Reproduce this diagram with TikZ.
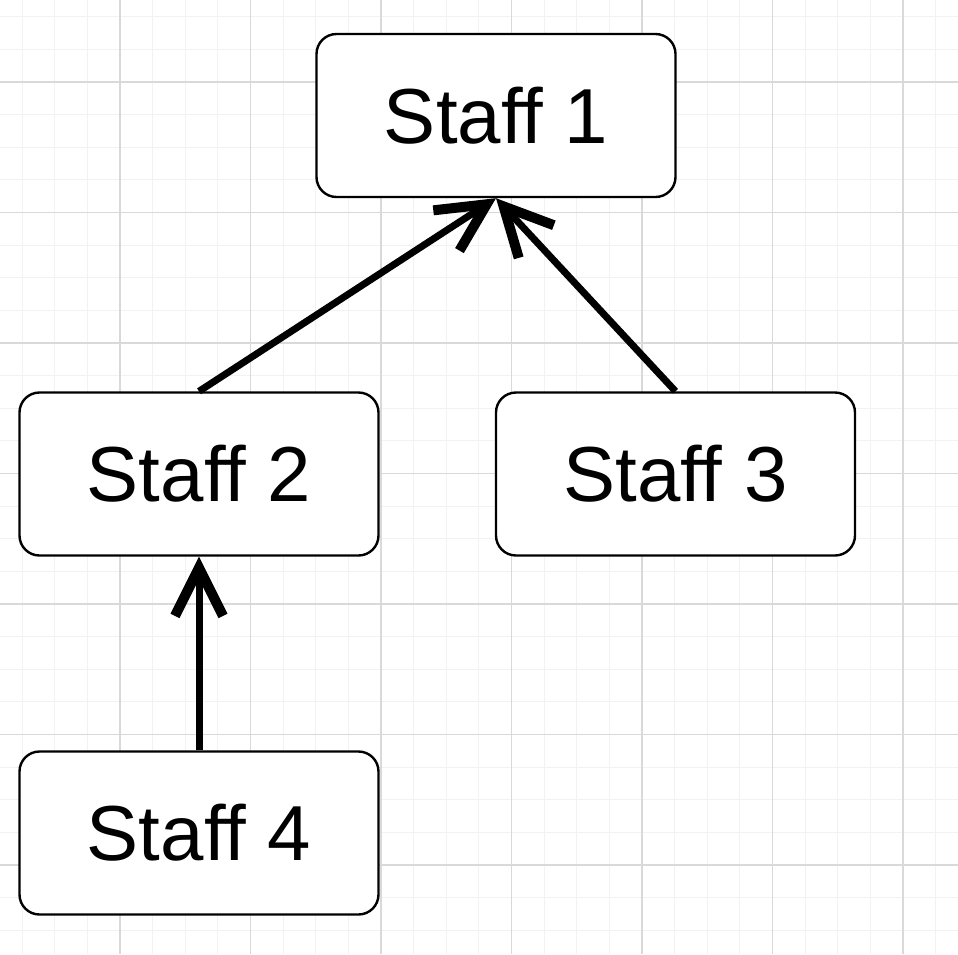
\documentclass[tikz,border=0pt]{standalone}
\usepackage{fontspec}
\setmainfont{Liberation Sans}
\usetikzlibrary{arrows.meta}
\definecolor{gridmajor}{HTML}{D9D9D9}
\definecolor{gridminor}{HTML}{F2F2F2}
\tikzset{
  staffbox/.style={draw=black, line width=2.4pt, rounded corners=20pt, fill=white,
    minimum width=359pt, minimum height=163pt, inner sep=0pt,
    font=\fontsize{78}{90}\selectfont},
  reports/.style={line width=7pt, line cap=butt,
    -{Straight Barb[length=48pt, width=48pt, line width=10pt, line cap=butt, line join=miter]}},
}
\begin{document}
\begin{tikzpicture}[x=1pt, y=-1pt]
  % canvas
  \fill[white] (0,0) rectangle (958,954);
  \useasboundingbox (0,0) rectangle (958,954);
  % minor grid
  \foreach \i in {0,...,29} {
    \draw[gridminor, line width=1pt] ({22.1+32.625*\i},0) -- ({22.1+32.625*\i},954);
    \draw[gridminor, line width=1pt] (0,{16.75+32.625*\i}) -- (958,{16.75+32.625*\i});
  }
  % major grid
  \foreach \i in {0,...,6} {
    \draw[gridmajor, line width=1.2pt] ({120+130.5*\i},0) -- ({120+130.5*\i},954);
    \draw[gridmajor, line width=1.2pt] (0,{82+130.5*\i}) -- (958,{82+130.5*\i});
  }
  % staff boxes
  \node[staffbox] (s1) at (496,115.5) {Staff 1};
  \node[staffbox] (s2) at (199,474) {Staff 2};
  \node[staffbox] (s3) at (675.5,474) {Staff 3};
  \node[staffbox] (s4) at (199,833) {Staff 4};
  % reporting lines
  \draw[reports] (s2.north) -- (s1.south);
  \draw[reports] (s3.north) -- (s1.south);
  \draw[reports] (s4.north) -- (s2.south);
\end{tikzpicture}
\end{document}
